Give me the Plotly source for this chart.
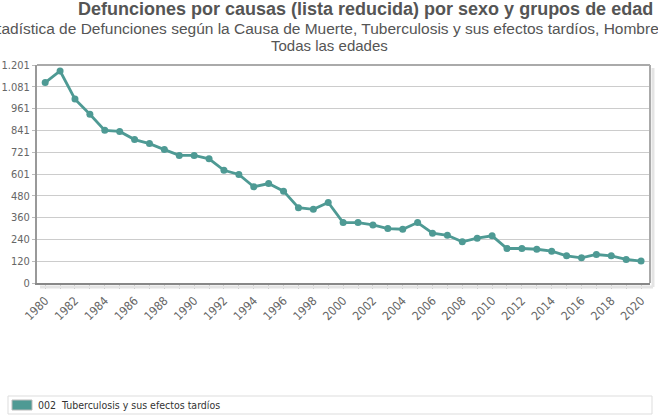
import plotly.graph_objects as go

years = list(range(1980, 2021))
deaths = [1104, 1168, 1013, 930, 841, 835, 790, 768, 735, 703,
          703, 684, 621, 598, 530, 548, 506, 415, 406, 444,
          333, 333, 320, 300, 296, 333, 274, 263, 227, 247,
          260, 190, 190, 186, 175, 150, 139, 157, 150, 130,
          121]

y_ticks = [0, 120.1, 240.2, 360.3, 480.4, 600.5, 720.6, 840.7, 960.8, 1080.9, 1201]
y_labels = ['0', '120', '240', '360', '480', '601', '721', '841', '961', '1.081', '1.201']
x_labels = [str(y) if y % 2 == 0 else '' for y in years]

series_name = '002  Tuberculosis y sus efectos tardíos'
title_1 = 'Defunciones por causas (lista reducida) por sexo y grupos de edad'
title_2 = 'Estadística de Defunciones según la Causa de Muerte, Tuberculosis y sus efectos tardíos, Hombres'
title_3 = 'Todas las edades'

teal = '#4e9a94'
text_grey = '#555555'
tick_font = 'DejaVu Sans Condensed, DejaVu Sans'

fig = go.Figure(
    go.Scatter(
        x=years,
        y=deaths,
        mode='lines+markers',
        line=dict(color=teal, width=2.8),
        marker=dict(color=teal, size=7),
        name=series_name,
        showlegend=False,
        hoverinfo='skip',
    ))

# plot area spans x 37..650 and y 65..283 px
L, R, T, B = 37, 8, 65, 134
pw = 658 - L - R
ph = 417 - T - B


def px_x(x):
    return (x - L) / pw


def px_y(y):
    return (417 - B - y) / ph


fig.update_layout(
    width=658, height=417,
    margin=dict(l=L, r=R, t=T, b=B),
    paper_bgcolor='white', plot_bgcolor='white',
    font=dict(family='Liberation Sans, Arial, sans-serif', color=text_grey),
    xaxis=dict(
        range=[1979.45, 2020.6],
        tickvals=years, ticktext=x_labels,
        tickangle=-45,
        ticks='outside', ticklen=4, tickcolor='#bbbbbb',
        tickfont=dict(family=tick_font, size=12, color='#666666'),
        showgrid=False, zeroline=False,
        showline=True, linecolor='#888888', linewidth=2,
    ),
    yaxis=dict(
        range=[0, 1201],
        tickvals=y_ticks, ticktext=y_labels,
        ticks='outside', ticklen=3, tickcolor='#bbbbbb',
        tickfont=dict(family=tick_font, size=11, color='#666666'),
        showgrid=True, gridcolor='#cccccc', gridwidth=1,
        zeroline=False, automargin=False,
        showline=True, linecolor='#999999', linewidth=2,
    ),
)

# frame with a light shadow on the right and bottom
fig.add_shape(type='line', xref='paper', yref='paper', x0=0, x1=1, y0=1, y1=1,
              line=dict(color='#aaaaaa', width=2))
fig.add_shape(type='line', xref='paper', yref='paper', x0=1, x1=1, y0=0, y1=1,
              line=dict(color='#aaaaaa', width=2))
fig.add_shape(type='line', xref='paper', yref='paper', x0=px_x(653), x1=px_x(653), y0=px_y(287), y1=px_y(68),
              line=dict(color='#e4e4e4', width=3))
fig.add_shape(type='line', xref='paper', yref='paper', x0=px_x(40), x1=px_x(653), y0=px_y(287), y1=px_y(287),
              line=dict(color='#e4e4e4', width=3))

# titles
fig.add_annotation(text='<b>' + title_1 + '</b>', xref='paper', yref='paper',
                   x=px_x(365), y=px_y(9), xanchor='center', yanchor='middle',
                   showarrow=False, font=dict(size=18, color=text_grey))
fig.add_annotation(text=title_2, xref='paper', yref='paper',
                   x=px_x(323), y=px_y(28), xanchor='center', yanchor='middle',
                   showarrow=False, font=dict(size=15.5, color=text_grey))
fig.add_annotation(text=title_3, xref='paper', yref='paper',
                   x=px_x(329), y=px_y(46), xanchor='center', yanchor='middle',
                   showarrow=False, font=dict(size=15, color=text_grey))

# legend box
fig.add_shape(type='rect', xref='paper', yref='paper',
              x0=px_x(8), x1=px_x(652), y0=px_y(414), y1=px_y(396),
              line=dict(color='#dddddd', width=1), fillcolor='white')
fig.add_shape(type='rect', xref='paper', yref='paper',
              x0=px_x(12), x1=px_x(32), y0=px_y(410), y1=px_y(400),
              line=dict(color='#bbbbbb', width=1), fillcolor=teal)
fig.add_annotation(text=series_name, xref='paper', yref='paper',
                   x=px_x(37), y=px_y(405), xanchor='left', yanchor='middle',
                   showarrow=False, borderpad=0,
                   font=dict(family=tick_font, size=10.5, color='#333333'))

# drop the default page margin so the figure sits at the window's corner
fig.write_html("out.html", config={'displayModeBar': False},
               post_script="document.body.style.margin='0';")
